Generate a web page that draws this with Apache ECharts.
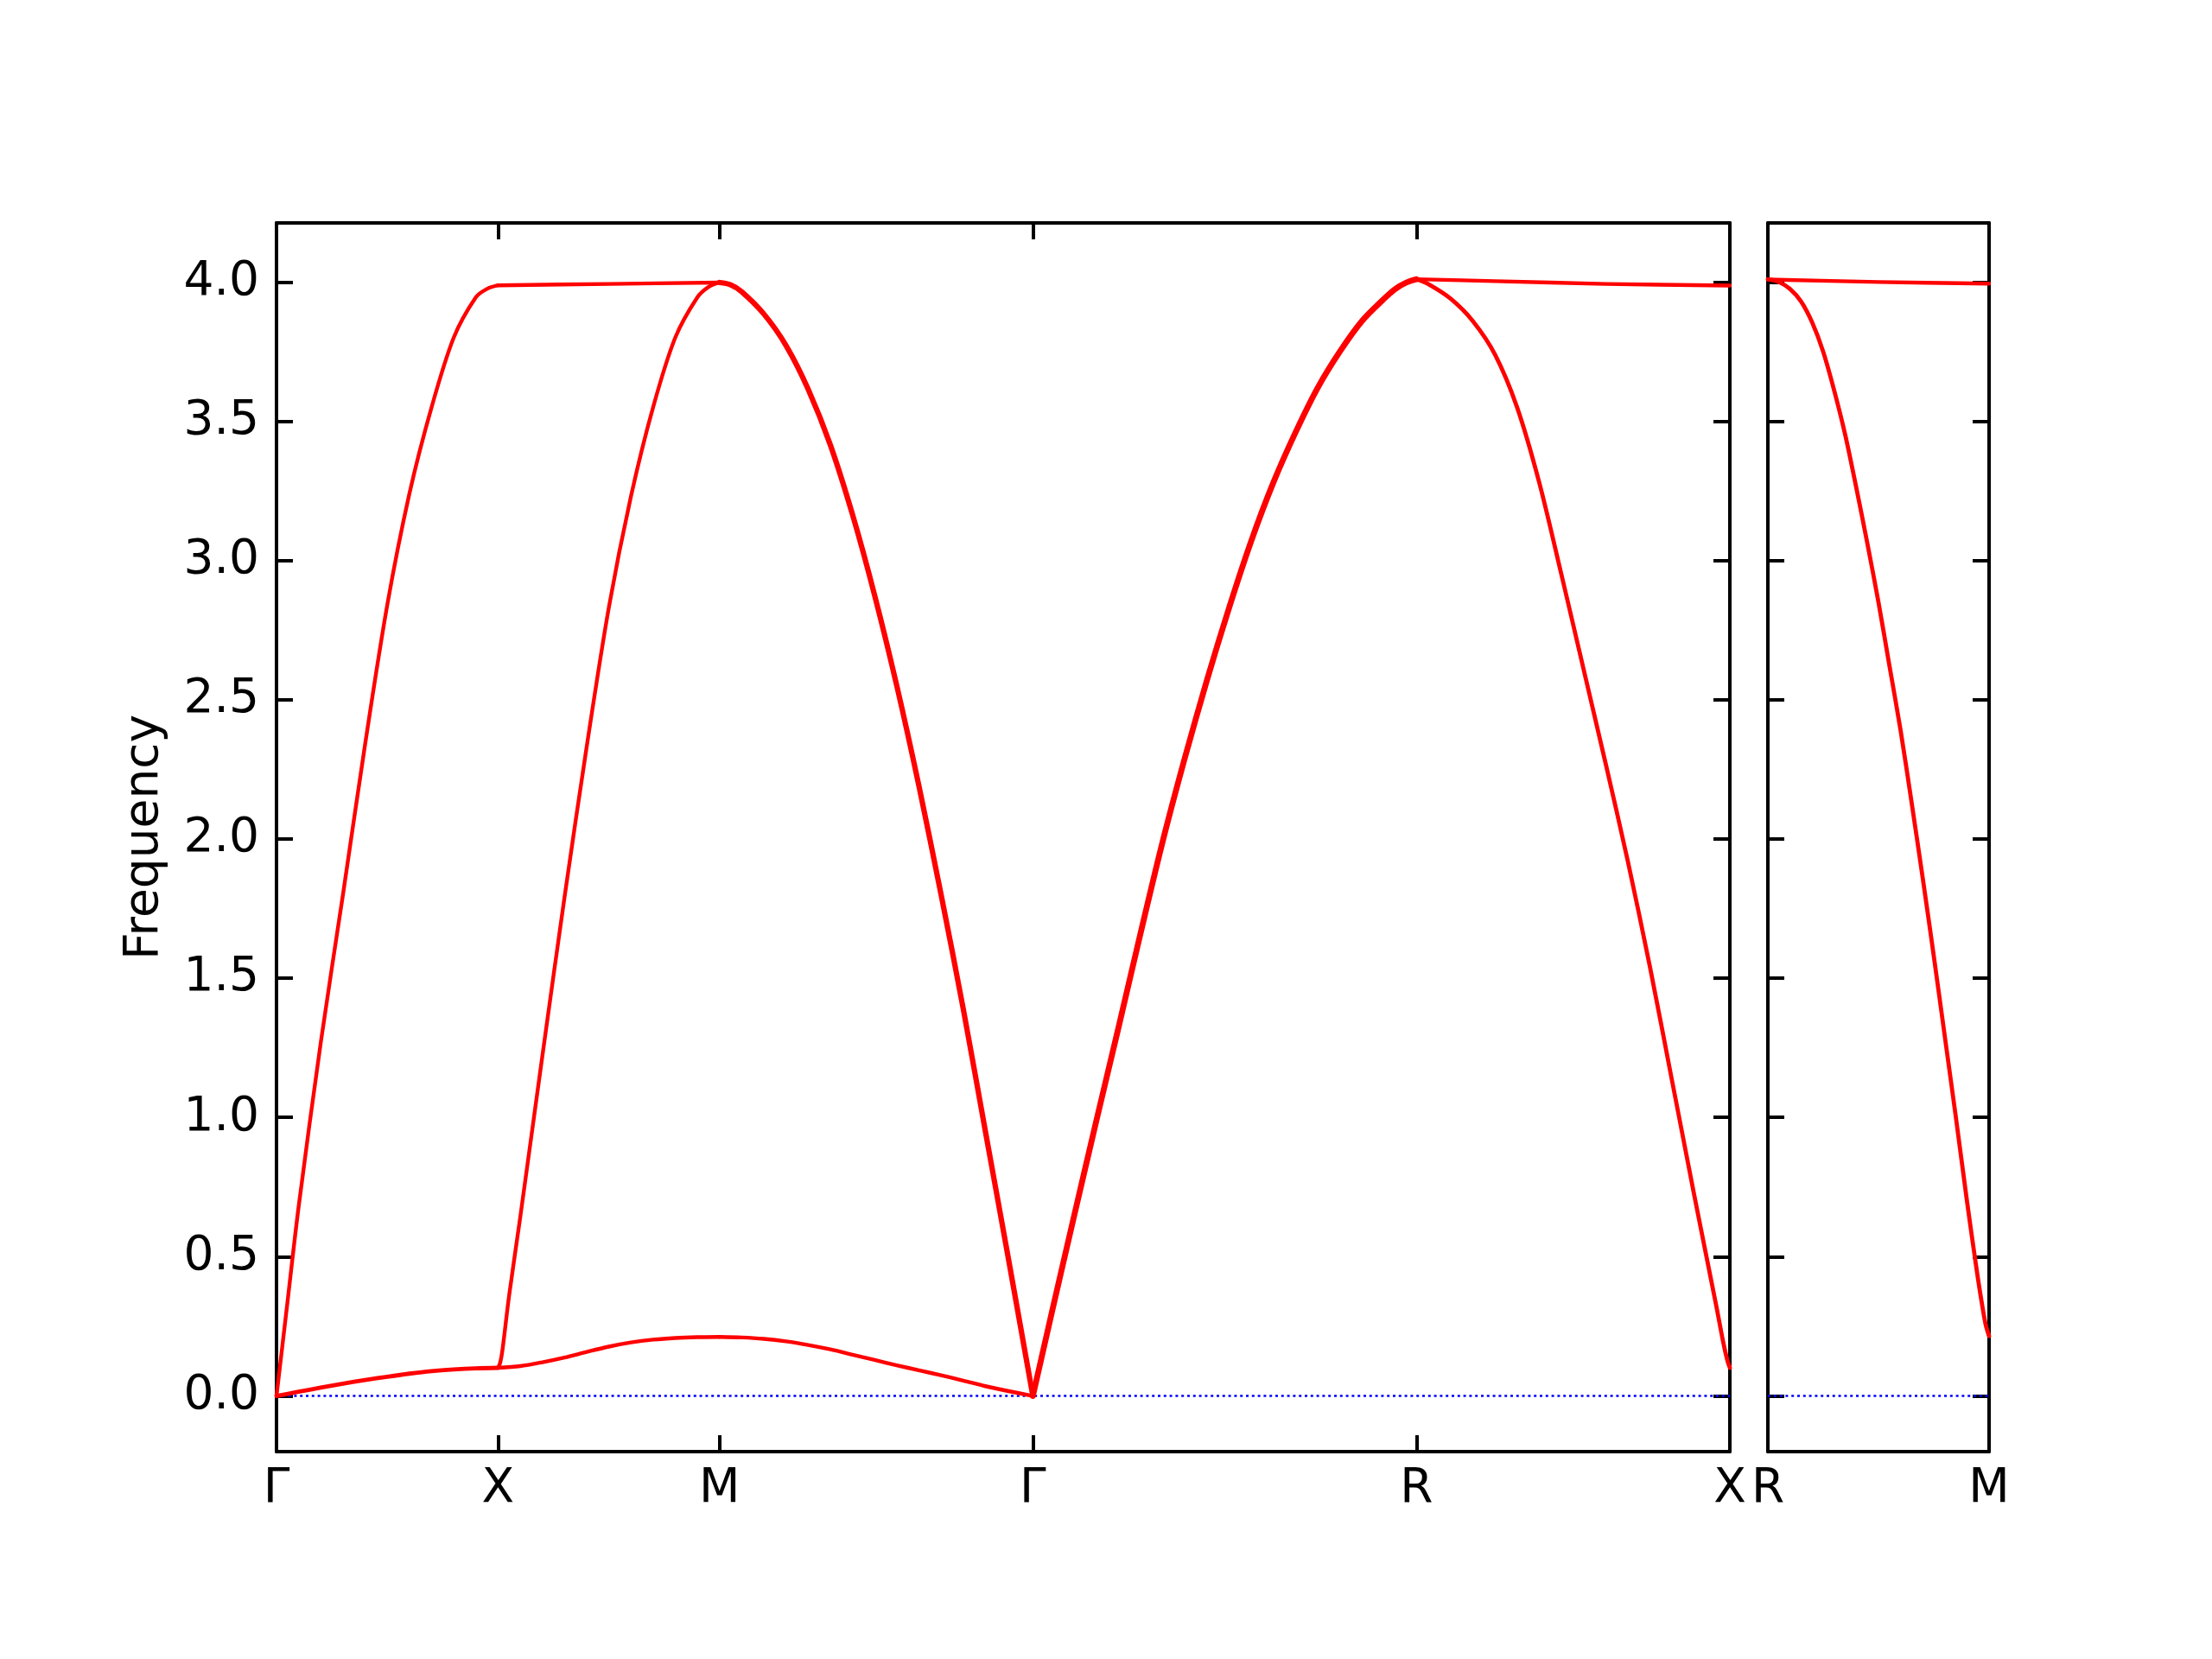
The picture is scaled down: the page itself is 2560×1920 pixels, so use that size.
<!DOCTYPE html>
<html>
<head>
<meta charset="utf-8">
<script src="https://cdn.jsdelivr.net/npm/echarts@6/dist/echarts.min.js"></script>
<style>
html,body{margin:0;padding:0;background:#fff;}
#c{width:2560px;height:1920px;}
</style>
</head>
<body>
<div id="c"></div>
<script>
// high-symmetry path positions and labels
const kTicks = [0, 1, 2, 3.4142, 5.1463, 6.5605];
const kNames = ['Γ', 'X', 'M', 'Γ', 'R', 'X'];
const k2Ticks = [0, 1];
const k2Names = ['R', 'M'];
const yTicks = [0, 0.5, 1.0, 1.5, 2.0, 2.5, 3.0, 3.5, 4.0];

// bands, main panel  [k, frequency]
const gxUp = [[0,0],[0.05,0.34],[0.1,0.68],[0.2,1.27],[0.3,1.8],[0.4,2.34],[0.5,2.84],[0.6,3.24],[0.7,3.55],[0.8,3.8],[0.9,3.945],[0.95,3.975],[1.0,3.988]];
const gxLow = [[0,0],[0.1,0.015],[0.2,0.03],[0.3,0.044],[0.4,0.057],[0.5,0.069],[0.6,0.08],[0.7,0.089],[0.8,0.095],[0.9,0.099],[1.0,0.101]];
const xmRise = [[1.0,0.101],[1.01,0.12],[1.02,0.165],[1.05,0.36],[1.1,0.64],[1.2,1.22],[1.3,1.79],[1.4,2.33],[1.5,2.83],[1.6,3.23],[1.7,3.55],[1.8,3.8],[1.9,3.945],[1.95,3.982],[2.0,3.998]];
const xmFlat = [[1.0,3.988],[1.5,3.993],[2.0,3.998]];
const xmLow = [[1.0,0.101],[1.1,0.107],[1.2,0.121],[1.3,0.138],[1.4,0.158],[1.5,0.177],[1.6,0.192],[1.7,0.202],[1.8,0.208],[1.9,0.211],[2.0,0.212]];
const mgDown = [[2.0,3.998],[2.05,3.99],[2.1,3.965],[2.2,3.885],[2.3,3.772],[2.4,3.615],[2.5,3.415],[2.6,3.165],[2.7,2.875],[2.8,2.55],[2.9,2.19],[3.0,1.8],[3.1,1.39],[3.2,0.95],[3.3,0.51],[3.4142,0]];
const mgLow = [[2.0,0.212],[2.1,0.21],[2.2,0.205],[2.3,0.196],[2.4,0.183],[2.5,0.167],[2.6,0.148],[2.7,0.129],[2.8,0.11],[2.9,0.092],[3.0,0.074],[3.1,0.055],[3.2,0.035],[3.3,0.018],[3.4142,0]];
const grUp = [[3.4142,0],[3.5,0.3],[3.6,0.645],[3.7,0.985],[3.8,1.32],[3.9,1.66],[4.0,1.99],[4.1,2.29],[4.2,2.57],[4.3,2.83],[4.4,3.07],[4.5,3.28],[4.6,3.46],[4.7,3.62],[4.8,3.75],[4.9,3.86],[5.0,3.94],[5.05,3.975],[5.1,3.998],[5.1463,4.01]];
const rxFlat = [[5.1463,4.01],[5.5,4.003],[6.0,3.993],[6.5605,3.987]];
const rxDown = [[5.1463,4.01],[5.2,3.992],[5.3,3.94],[5.4,3.86],[5.5,3.74],[5.6,3.55],[5.7,3.28],[5.8,2.95],[5.9,2.61],[6.0,2.27],[6.1,1.92],[6.2,1.54],[6.3,1.13],[6.4,0.72],[6.45,0.52],[6.5,0.32],[6.53,0.195],[6.55,0.125],[6.5605,0.101]];
// bands, second panel (R -> M)
const rmFlat = [[0,4.009],[0.5,4.0],[1.0,3.994]];
const rmDown = [[0,4.01],[0.05,4.0],[0.1,3.975],[0.15,3.93],[0.2,3.855],[0.25,3.75],[0.3,3.61],[0.35,3.45],[0.4,3.26],[0.45,3.06],[0.5,2.85],[0.55,2.62],[0.6,2.39],[0.65,2.13],[0.7,1.86],[0.75,1.58],[0.8,1.29],[0.85,1.0],[0.9,0.7],[0.93,0.53],[0.95,0.42],[0.97,0.32],[0.985,0.255],[1.0,0.215]];
// zero reference lines
const zeroMain = [[0,0],[6.5605,0]];
const zeroSecond = [[0,0],[1,0]];

const FONT = 'DejaVu Sans';
const AX = {color:'#000', width:4};
const TICK = {inside:true, length:19, lineStyle:{color:'#000', width:4}};

function xAx(grid, min, max, ticks, names, pos, labels){
  return {
    type:'value', gridIndex:grid, min:min, max:max, position:pos,
    axisLine:{show:true, onZero:false, lineStyle:AX},
    axisTick:Object.assign({customValues:ticks}, TICK),
    axisLabel:{show:labels, customValues:ticks, margin:16, fontSize:55, fontFamily:FONT, color:'#000',
      formatter:function(v){ const i = ticks.indexOf(v); return i>=0 ? names[i] : ''; }},
    splitLine:{show:false}
  };
}
function yAx(grid, pos, labels, name){
  const a = {
    type:'value', gridIndex:grid, min:-0.2, max:4.212, position:pos,
    axisLine:{show:true, onZero:false, lineStyle:AX},
    axisTick:Object.assign({customValues:yTicks}, TICK),
    axisLabel:{show:labels, customValues:yTicks, margin:20, fontSize:55, fontFamily:FONT, color:'#000',
      formatter:function(v){ return v.toFixed(1); }},
    splitLine:{show:false}
  };
  if (name){
    a.name = name; a.nameLocation = 'middle'; a.nameGap = 125; a.nameRotate = 90;
    a.nameTextStyle = {fontSize:55, fontFamily:FONT, color:'#000'};
  }
  return a;
}
function band(data, xi, yi, w){
  return {type:'line', data:data, xAxisIndex:xi, yAxisIndex:yi, showSymbol:false, symbol:'none',
    smooth:0.3, lineStyle:{color:'#ff0000', width:w, join:'round', cap:'round'}, z:3, silent:true};
}
function zero(data, xi, yi){
  return {type:'line', data:data, xAxisIndex:xi, yAxisIndex:yi, showSymbol:false, symbol:'none',
    lineStyle:{color:'#0000ff', width:2.6, type:[3,3.8]}, z:2, silent:true};
}

const chart = echarts.init(document.getElementById('c'), null, {renderer:'canvas'});
chart.setOption({
  animation:false,
  backgroundColor:'#fff',
  grid:[
    {left:320, top:258, width:1682, height:1422},
    {left:2046, top:258, width:256, height:1422}
  ],
  xAxis:[
    xAx(0, 0, 6.5605, kTicks, kNames, 'bottom', true),
    xAx(0, 0, 6.5605, kTicks, kNames, 'top', false),
    xAx(1, 0, 1, k2Ticks, k2Names, 'bottom', true),
    xAx(1, 0, 1, k2Ticks, k2Names, 'top', false)
  ],
  yAxis:[
    yAx(0, 'left', true, 'Frequency'),
    yAx(0, 'right', false),
    yAx(1, 'left', false),
    yAx(1, 'right', false)
  ],
  series:[
    zero(zeroMain, 0, 0),
    zero(zeroSecond, 2, 2),
    band(gxUp, 0, 0, 4.4),
    band(gxLow, 0, 0, 4.8),
    band(xmRise, 0, 0, 4.4),
    band(xmFlat, 0, 0, 4.4),
    band(xmLow, 0, 0, 4.4),
    band(mgDown, 0, 0, 6.2),
    band(mgLow, 0, 0, 4.4),
    band(grUp, 0, 0, 6.8),
    band(rxFlat, 0, 0, 4.4),
    band(rxDown, 0, 0, 4.8),
    band(rmFlat, 2, 2, 4.4),
    band(rmDown, 2, 2, 4.8)
  ]
});
</script>
</body>
</html>
